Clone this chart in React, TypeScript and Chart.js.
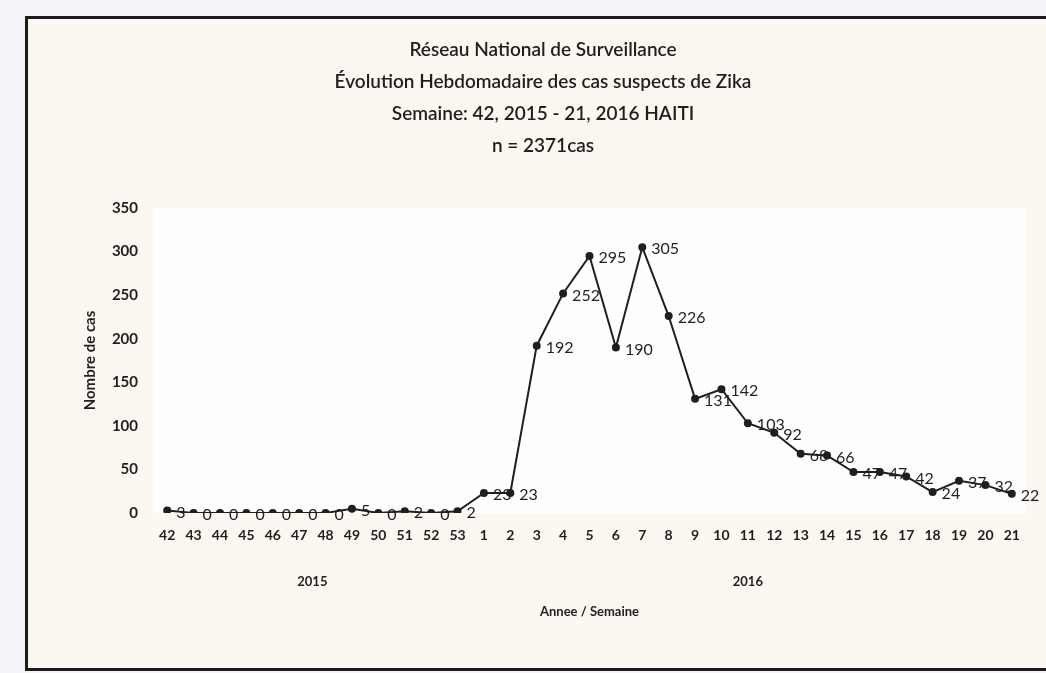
import React, { useEffect, useRef } from 'react';
import { Chart, registerables } from 'chart.js';

Chart.register(...registerables);

const weeks2015 = ['42', '43', '44', '45', '46', '47', '48', '49', '50', '51', '52', '53'];
const weeks2016 = ['1', '2', '3', '4', '5', '6', '7', '8', '9', '10', '11', '12', '13', '14', '15', '16', '17', '18', '19', '20', '21'];
const cases2015 = [3, 0, 0, 0, 0, 0, 0, 5, 0, 2, 0, 2];
const cases2016 = [23, 23, 192, 252, 295, 190, 305, 226, 131, 142, 103, 92, 68, 66, 47, 47, 42, 24, 37, 32, 22];
const yearLabels = ['2015', '2016'];
const titleLines = [
  'Réseau National de Surveillance',
  'Évolution Hebdomadaire des cas suspects de Zika',
  'Semaine: 42, 2015 - 21, 2016 HAITI',
  'n = 2371cas',
];
const yAxisTitle = 'Nombre de cas';
const xAxisTitle = 'Annee / Semaine';
const yMax = 350;
const yStep = 50;

const FONT = 'Lato, "Open Sans", sans-serif';
const INK = '#1f1f1f';

const plotBackground = {
  id: 'plotBackground',
  beforeDraw(chart: any) {
    const { ctx, chartArea } = chart;
    ctx.save();
    ctx.fillStyle = '#fefefe';
    ctx.fillRect(chartArea.left, chartArea.top, chartArea.right - chartArea.left, chartArea.bottom - chartArea.top);
    ctx.restore();
  },
};

const pointLabels = {
  id: 'pointLabels',
  afterDatasetsDraw(chart: any) {
    const { ctx } = chart;
    const meta = chart.getDatasetMeta(0);
    const data = chart.data.datasets[0].data as number[];
    ctx.save();
    ctx.font = `16px ${FONT}`;
    ctx.fillStyle = INK;
    ctx.textAlign = 'left';
    ctx.textBaseline = 'middle';
    meta.data.forEach((pt: any, i: number) => {
      ctx.fillText(String(data[i]), pt.x + 9, pt.y + 2);
    });
    ctx.restore();
  },
};

const yearGroups = {
  id: 'yearGroups',
  afterDraw(chart: any) {
    const { ctx, chartArea } = chart;
    const x = chart.scales.x;
    const groups = [
      [0, weeks2015.length - 1],
      [weeks2015.length, weeks2015.length + weeks2016.length - 1],
    ];
    ctx.save();
    ctx.font = `bold 13px ${FONT}`;
    ctx.fillStyle = INK;
    ctx.textAlign = 'center';
    ctx.textBaseline = 'middle';
    groups.forEach((g, i) => {
      const cx = (x.getPixelForValue(g[0]) + x.getPixelForValue(g[1])) / 2;
      ctx.fillText(yearLabels[i], cx, chartArea.bottom + 69);
    });
    ctx.restore();
  },
};

export default function App() {
  const ref = useRef<HTMLCanvasElement | null>(null);

  useEffect(() => {
    if (!ref.current) return;
    const labels = [...weeks2015, ...weeks2016];
    const values = [...cases2015, ...cases2016];
    const chart = new Chart(ref.current, {
      type: 'line',
      data: {
        labels,
        datasets: [
          {
            data: values,
            borderColor: INK,
            backgroundColor: INK,
            borderWidth: 2,
            pointRadius: 3,
            pointBackgroundColor: INK,
            pointBorderColor: INK,
            tension: 0,
          },
        ],
      },
      options: {
        responsive: false,
        animation: false,
        layout: { padding: { left: 61, right: 21, top: 0, bottom: 0 } },
        plugins: {
          legend: { display: false },
          tooltip: { enabled: false },
          title: {
            display: true,
            text: titleLines,
            color: INK,
            font: { family: FONT, size: 19, weight: '600', lineHeight: 32 / 19 },
            padding: { top: 34, bottom: 46 },
          },
        },
        scales: {
          x: {
            type: 'category',
            offset: true,
            grid: { display: false, drawTicks: false },
            border: { display: false },
            ticks: {
              color: INK,
              padding: 14,
              autoSkip: false,
              maxRotation: 0,
              font: { family: FONT, size: 14, weight: 'bold' },
            },
            title: {
              display: true,
              text: xAxisTitle,
              color: INK,
              font: { family: FONT, size: 13, weight: 'bold' },
              padding: { top: 40, bottom: 53 },
            },
            afterFit(scale: any) {
              scale.height = 160;
            },
          },
          y: {
            min: 0,
            max: yMax,
            grid: { display: false, drawTicks: false },
            border: { display: false },
            ticks: {
              stepSize: yStep,
              color: INK,
              padding: 16,
              font: { family: FONT, size: 15, weight: 'bold' },
            },
            title: {
              display: true,
              text: yAxisTitle,
              color: INK,
              font: { family: FONT, size: 15, weight: 'bold' },
              padding: { top: 20, bottom: 4 },
            },
            afterFit(scale: any) {
              scale.width = 93;
            },
          },
        },
      },
      plugins: [plotBackground, pointLabels, yearGroups],
    });
    return () => chart.destroy();
  }, []);

  return (
    <div style={{ position: 'fixed', left: 0, top: 0, width: 1046, height: 673, overflow: 'hidden', background: '#f3f5f9' }}>
      <div
        style={{
          position: 'absolute',
          left: 25,
          top: 16,
          width: 1100,
          height: 649,
          borderTop: '3px solid #1c1c1c',
          borderLeft: '3px solid #1c1c1c',
          borderBottom: '3px solid #1c1c1c',
          background: '#fbf7f1',
        }}
      />
      <canvas ref={ref} width={1046} height={673} style={{ position: 'absolute', left: 0, top: 0, width: 1046, height: 673 }} />
    </div>
  );
}
